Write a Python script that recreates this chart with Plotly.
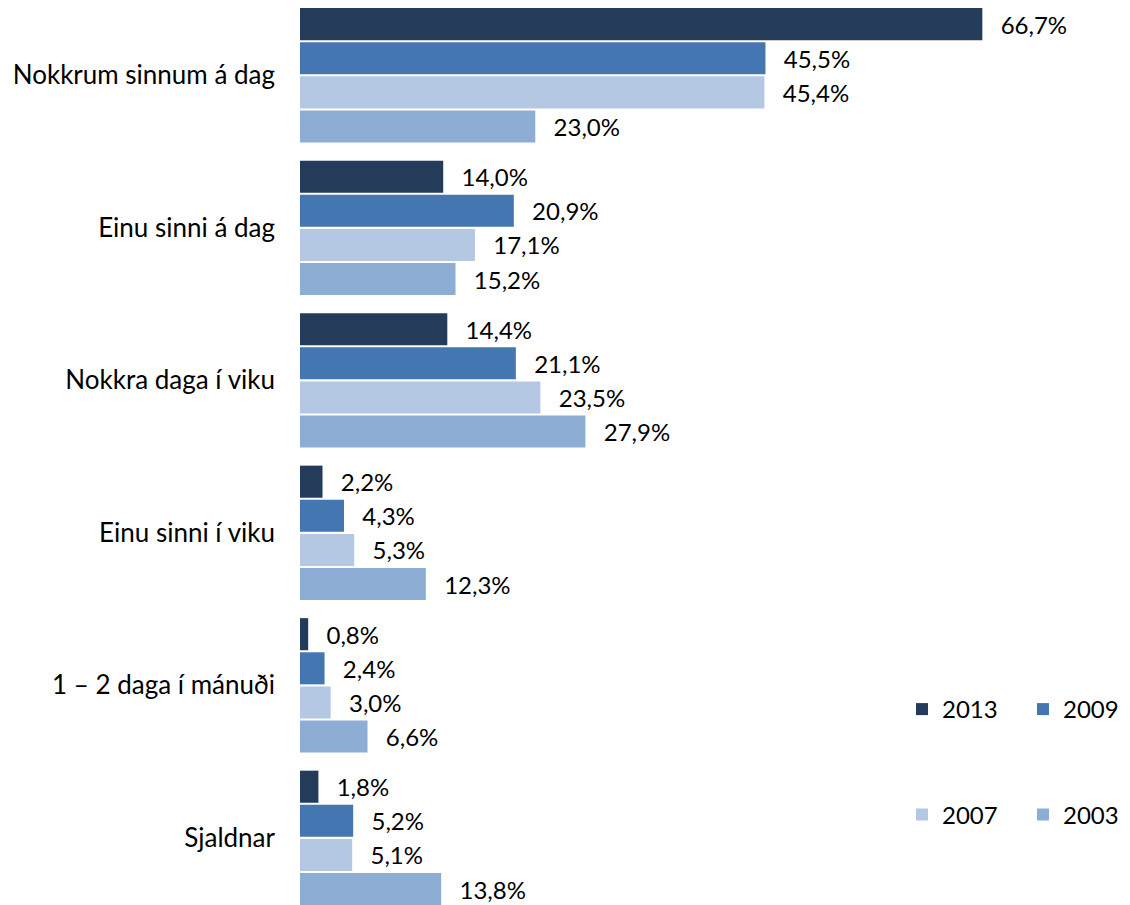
import plotly.graph_objects as go

categories = ["Nokkrum sinnum á dag", "Einu sinni á dag", "Nokkra daga í viku",
              "Einu sinni í viku", "1 – 2 daga í mánuði", "Sjaldnar"]
series_names = ["2013", "2009", "2007", "2003"]
v2013 = [66.7, 14.0, 14.4, 2.2, 0.8, 1.8]
v2009 = [45.5, 20.9, 21.1, 4.3, 2.4, 5.2]
v2007 = [45.4, 17.1, 23.5, 5.3, 3.0, 5.1]
v2003 = [23.0, 15.2, 27.9, 12.3, 6.6, 13.8]
colors = ["#243B5A", "#4476B1", "#B4C8E3", "#8DADD5"]

FONT = "Lato, 'Open Sans', sans-serif"
W, H = 1122, 897
fig = go.Figure()
all_vals = [v2013, v2009, v2007, v2003]
legends = ["legend", "legend2", "legend3", "legend4"]
for name, vals, col, lg in zip(series_names, all_vals, colors, legends):
    fig.add_trace(go.Bar(
        y=categories, x=vals, name=name, orientation="h",
        marker=dict(color=col, line=dict(width=0)),
        text=vals,
        texttemplate="\u00a0\u00a0\u2009%{x:.1f}%",
        textposition="outside",
        textfont=dict(size=24, color="#000000", family=FONT),
        cliponaxis=False,
        legend=lg,
    ))

def leg(x_px, y_px):
    return dict(orientation="h", xref="container", yref="container",
                x=x_px / W, y=1 - y_px / H, xanchor="left", yanchor="middle",
                font=dict(size=24, family=FONT, color="#000000"),
                bgcolor="rgba(0,0,0,0)")

fig.update_layout(
    width=W, height=H,
    margin=dict(l=292, r=0, t=0, b=0, autoexpand=False),
    paper_bgcolor="white", plot_bgcolor="white",
    barmode="group", bargap=0.105, bargroupgap=0.06,
    separators=", ",
    font=dict(family=FONT, size=24, color="#000000"),
    xaxis=dict(range=[0, (W - 292) / 10.23], visible=False, fixedrange=True),
    yaxis=dict(type="category", range=[5.44, -0.4416], showline=False,
               showgrid=False, zeroline=False, ticks="",
               ticklabelstandoff=24,
               tickfont=dict(size=26, family=FONT, color="#000000")),
    legend=leg(894, 701.5),
    legend2=leg(1015, 701.5),
    legend3=leg(894, 807),
    legend4=leg(1015, 807),
    showlegend=True,
)

fig.write_html("out.html")
